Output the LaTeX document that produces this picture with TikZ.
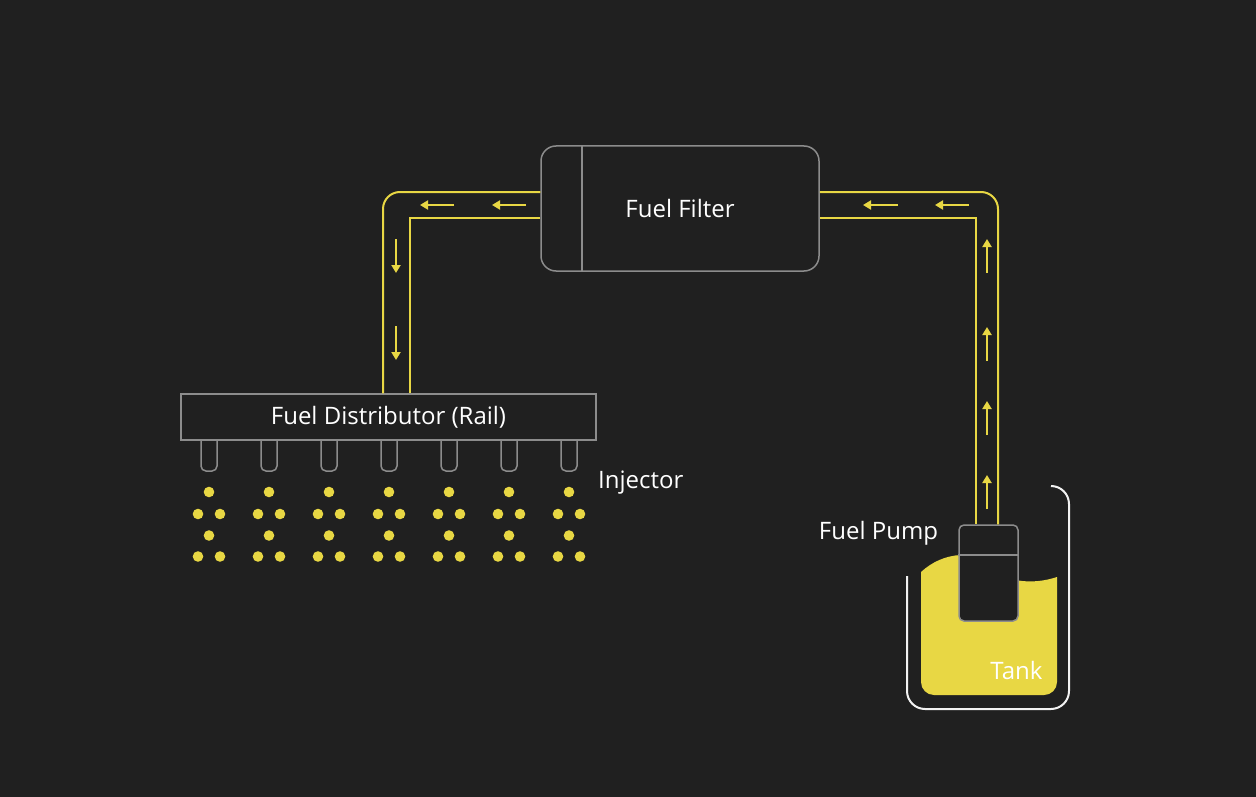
\documentclass[tikz,border=0pt]{standalone}
\usepackage{fontspec}
\setmainfont{Open Sans}
\usetikzlibrary{arrows.meta}
\definecolor{bg}{HTML}{202020}
\definecolor{fuel}{HTML}{E8D744}
\definecolor{frame}{HTML}{8C8C8C}
\definecolor{tankline}{HTML}{F2F2F2}

\begin{document}
\begin{tikzpicture}[x=1pt, y=-1pt,
  box/.style={draw=frame, line width=1.5pt, fill=bg, inner sep=0pt, text=white, font=\fontsize{24}{28}\selectfont},
  pipe/.style={draw=fuel, line width=2pt},
  flow/.style={fuel, line width=2pt, -{Triangle[length=8pt, width=9pt]}},
  txt/.style={text=white, inner sep=0pt, font=\fontsize{24}{28}\selectfont}]

\fill[bg] (0,0) rectangle (1256,797);

% tank and fuel
\draw[tankline, line width=2pt] (907,576) -- (907,691) arc[start angle=180, end angle=270, radius=18pt]
  -- (1051,709) arc[start angle=270, end angle=360, radius=18pt]
  -- (1069,504) arc[start angle=0, end angle=90, radius=18pt];
\fill[fuel] (921,572) .. controls (932,562) and (945,556) .. (960,555) -- (1016,580)
  .. controls (1030,583) and (1045,581) .. (1057,577) -- (1057,682) arc[start angle=0, end angle=-90, radius=13pt]
  -- (934,695) arc[start angle=270, end angle=180, radius=13pt] -- cycle;
\node at (1016.5,670) [txt] {Tank};

% pump
\node (pump) at (988.5,573) [box, rounded corners=5pt, minimum width=59pt, minimum height=96pt] {};
\draw[frame, line width=1.5pt] (pump.west |- 0,555) -- (pump.east |- 0,555);
\node at (878.5,533) [txt] {Fuel Pump};

% filter
\node (filter) at (680,208.5) [box, rounded corners=15pt, minimum width=278pt, minimum height=125pt] {Fuel Filter};
\draw[frame, line width=1.5pt] (582,0 |- filter.north) -- (582,0 |- filter.south);

% rail and injectors
\node (rail) at (388.5,417) [box, minimum width=415pt, minimum height=46pt] {Fuel Distributor (Rail)};
\foreach \i in {0,...,6}{
  \draw[frame, line width=1.5pt, rounded corners=5pt] (201+60*\i,0 |- rail.south) -- (201+60*\i,471) -- (217+60*\i,471) -- (217+60*\i,0 |- rail.south);
  \fill[fuel] (209+60*\i,492) circle[radius=5.3pt];
  \fill[fuel] (198+60*\i,514) circle[radius=5.3pt];
  \fill[fuel] (220+60*\i,514) circle[radius=5.3pt];
  \fill[fuel] (209+60*\i,535.5) circle[radius=5.3pt];
  \fill[fuel] (198+60*\i,556.5) circle[radius=5.3pt];
  \fill[fuel] (220+60*\i,556.5) circle[radius=5.3pt];
}
\node at (598,483) [txt, anchor=west] {Injector};

% pipes
\draw[pipe, rounded corners=17pt] (filter.west |- 0,192) -| (rail.north -| 383,0);
\draw[pipe] (filter.west |- 0,218) -| (rail.north -| 410,0);
\draw[pipe, rounded corners=17pt] (filter.east |- 0,192) -| (pump.north -| 998,0);
\draw[pipe] (filter.east |- 0,218) -| (pump.north -| 976,0);

% flow arrows
\draw[flow] (454,205) -- (420,205);
\draw[flow] (526,205) -- (492,205);
\draw[flow] (396,239) -- (396,273);
\draw[flow] (396,326) -- (396,360);
\draw[flow] (898,205) -- (863,205);
\draw[flow] (969,205) -- (935,205);
\foreach \y in {239,327,401,475}
  \draw[flow] (987,\y+34) -- (987,\y);

\end{tikzpicture}
\end{document}
